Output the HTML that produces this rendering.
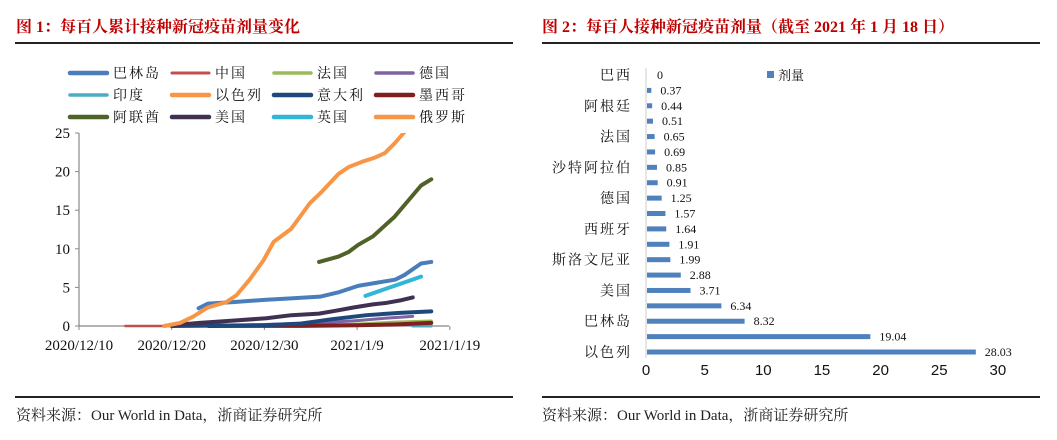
<!DOCTYPE html>
<html><head><meta charset="utf-8">
<style>
body{margin:0;width:1057px;height:440px;background:#fff;overflow:hidden;font-family:"Liberation Serif","Noto Serif CJK SC",serif;}
.t{position:absolute;top:14px;font-weight:bold;color:#c00000;font-size:16px;font-family:"Liberation Serif","Noto Serif CJK SC",serif;}
.hl{position:absolute;height:2px;background:#222;}
.src{position:absolute;top:404px;font-size:15px;color:#222;}
svg{position:absolute;left:0;top:0;}
</style></head><body>
<div class="t" style="left:16px">图 1：每百人累计接种新冠疫苗剂量变化</div>
<div class="t" style="left:542px">图 2：每百人接种新冠疫苗剂量（截至 2021 年 1 月 18 日）</div>
<div class="hl" style="left:15px;width:498px;top:42px"></div>
<div class="hl" style="left:542px;width:498px;top:42px"></div>
<div class="hl" style="left:15px;width:498px;top:396px"></div>
<div class="hl" style="left:542px;width:498px;top:396px"></div>
<div class="src" style="left:16px">资料来源：Our World in Data，浙商证券研究所</div>
<div class="src" style="left:542px">资料来源：Our World in Data，浙商证券研究所</div>
<svg id="c" width="1057" height="440"></svg>
<script>
// ---- Chart 1 data (x = days since 2020/12/10) ----
const seriesNames=["巴林岛","中国","法国","德国","印度","以色列","意大利","墨西哥","阿联酋","美国","英国","俄罗斯"];
const seriesColors=["#4a7ebb","#c0504d","#9bbb59","#8064a2","#4bacc6","#f79646","#1f497d","#7f1f1f","#4f6228","#403152","#31b6d8","#f79646"];
const bahrainX=[12.9,13.9,16.6,20.2,23.1,26,28.1,30.1,32.1,34.1,35.1,36.9,38];
const bahrainY=[2.3,2.9,3.1,3.4,3.6,3.8,4.4,5.2,5.6,6,6.6,8.1,8.3];
const chinaX=[5,10];const chinaY=[0,0];
const franceX=[14,20,26,30,34,38];const franceY=[0,0.05,0.1,0.25,0.5,0.65];
const germanyX=[14,20,26,30,33,36];const germanyY=[0,0.2,0.4,0.7,1,1.25];
const indiaX=[36,38];const indiaY=[0,0];
const israelX=[9.2,10.9,12.3,13.9,15.9,17,18.4,19.9,21,22.9,24.9,26.2,28,29.1,30.6,31.9,33,34,35.1,36];
const israelY=[0,0.4,1.2,2.4,3.1,4,6,8.5,10.9,12.6,15.9,17.4,19.7,20.6,21.3,21.8,22.4,23.6,25.1,26.5];
const italyX=[10,20,23.8,27.4,31,34.6,38];const italyY=[0,0.1,0.3,0.9,1.4,1.7,1.9];
const mexicoX=[14,24,30,34,38];const mexicoY=[0,0.02,0.1,0.2,0.4];
const uaeX=[25.9,28,29.1,30.1,31.7,32.8,34,35.7,36.9,38];
const uaeY=[8.3,9,9.6,10.5,11.6,12.8,14.1,16.5,18.2,19];
const usX=[10,13,16.6,20.2,22.9,25.9,27.8,29.6,31.7,33.2,34.6,36];
const usY=[0.1,0.4,0.7,1,1.4,1.6,2,2.4,2.8,3.0,3.3,3.7];
const ukX=[30.9,32.8,35,36.9];const ukY=[3.9,4.7,5.6,6.4];
const russiaX=[];const russiaY=[];
const xTicks=[0,10,20,30,40];
const xTickLabels=["2020/12/10","2020/12/20","2020/12/30","2021/1/9","2021/1/19"];
const yTicks=[0,5,10,15,20,25];
// ---- Chart 2 data ----
const barCats=["巴西","中国","阿根廷","墨西哥","法国","意大利","沙特阿拉伯","俄罗斯","德国","葡萄牙","西班牙","丹麦","斯洛文尼亚","冰岛","美国","英国","巴林岛","阿联酋","以色列"];
const barVals=[0,0.37,0.44,0.51,0.65,0.69,0.85,0.91,1.25,1.57,1.64,1.91,1.99,2.88,3.71,6.34,8.32,19.04,28.03];
const barTicks=[0,5,10,15,20,25,30];

const NS="http://www.w3.org/2000/svg";
const svg=document.getElementById('c');
function mk(tag,attrs,parent){const e=document.createElementNS(NS,tag);for(const k in attrs)e.setAttribute(k,attrs[k]);(parent||svg).appendChild(e);return e;}
const serif='"Liberation Serif","Noto Serif CJK SC",serif';
const sans='"Liberation Sans","Noto Sans CJK SC",sans-serif';

const x1=d=>79+d*9.27;
const y1=v=>326-v*7.72;
const g1=mk('g',{});


let ax=mk('line',{x1:79,y1:y1(25),x2:79,y2:326,stroke:'#888','stroke-width':1.2},g1);

ax=mk('line',{x1:79,y1:326,x2:449,y2:326,stroke:'#888','stroke-width':1.2},g1);

yTicks.forEach(v=>{
  mk('line',{x1:75,y1:y1(v),x2:79,y2:y1(v),stroke:'#888'},g1);
  const t=mk('text',{x:70,y:y1(v)+5,'text-anchor':'end','font-size':15,'font-family':serif,fill:'#111'},g1);
  t.textContent=v;
  
});
xTicks.forEach((d,i)=>{
  mk('line',{x1:x1(d),y1:326,x2:x1(d),y2:330,stroke:'#888'},g1);
  const t=mk('text',{x:x1(d),y:350,'text-anchor':'middle','font-size':15,'font-family':serif,fill:'#111'},g1);
  t.textContent=xTickLabels[i];
  
});
const series=[[bahrainX,bahrainY],[chinaX,chinaY],[franceX,franceY],[germanyX,germanyY],[indiaX,indiaY],[israelX,israelY],[italyX,italyY],[mexicoX,mexicoY],[uaeX,uaeY],[usX,usY],[ukX,ukY],[russiaX,russiaY]];
const widths=[4,2.5,3,3,3,4,4,4,4,4,4,4];
const clip=mk('clipPath',{id:'cl'},g1);mk('rect',{x:79,y:y1(25),width:380,height:y1(0)-y1(25)+5},clip);
[2,3,4,1,7,6,9,10,0,8,5].forEach(i=>{
  const [xs,ys]=series[i];if(!xs.length)return;
  const p=mk('polyline',{points:xs.map((d,j)=>x1(d)+','+y1(ys[j])).join(' '),fill:'none',stroke:seriesColors[i],'stroke-width':widths[i],'stroke-linejoin':'round','stroke-linecap':'round','clip-path':'url(#cl)'},g1);
  
});
seriesNames.forEach((n,i)=>{
  const c=i%4,r=Math.floor(i/4);
  const lx=68+c*102,ly=73+r*22;
  const g=mk('g',{},g1);
  
  mk('line',{x1:lx+2,y1:ly,x2:lx+39,y2:ly,stroke:seriesColors[i],'stroke-width':widths[i]+0.5,'stroke-linecap':'round'},g);
  const t=mk('text',{x:lx+45,y:ly+5,'font-size':14,'font-family':serif,fill:'#111','letter-spacing':2},g);
  t.textContent=n;
});

const x2=v=>646+v*11.73;
const y2=i=>75+i*15.39;
const g2=mk('g',{});

ax=mk('line',{x1:646,y1:68,x2:646,y2:358,stroke:'#ccc'},g2);

barCats.forEach((c,i)=>{
  if(barVals[i]>0){
    const b=mk('rect',{x:x2(0)+1,y:y2(i)-2.5,width:x2(barVals[i])-x2(0),height:5,fill:'#4f81bd'},g2);
    
  }
  const v=mk('text',{x:x2(barVals[i])+(barVals[i]>0?10:11),y:y2(i)+4,'font-size':12,'font-family':serif,fill:'#111'},g2);
  v.textContent=barVals[i];
  
  if(i%2===0){
    const t=mk('text',{x:632,y:y2(i)+5,'text-anchor':'end','font-size':14,'font-family':serif,fill:'#111','letter-spacing':2},g2);
    t.textContent=c;
    
  }
});
barTicks.forEach(v=>{
  const t=mk('text',{x:x2(v),y:375,'text-anchor':'middle','font-size':15,'font-family':sans,fill:'#111'},g2);
  t.textContent=v;
  
});
const lg=mk('g',{},g2);

mk('rect',{x:767,y:71,width:7,height:7,fill:'#4f81bd'},lg);
const lt=mk('text',{x:778,y:80,'font-size':13,'font-family':serif,fill:'#111'},lg);lt.textContent='剂量';
</script>
</body></html>
